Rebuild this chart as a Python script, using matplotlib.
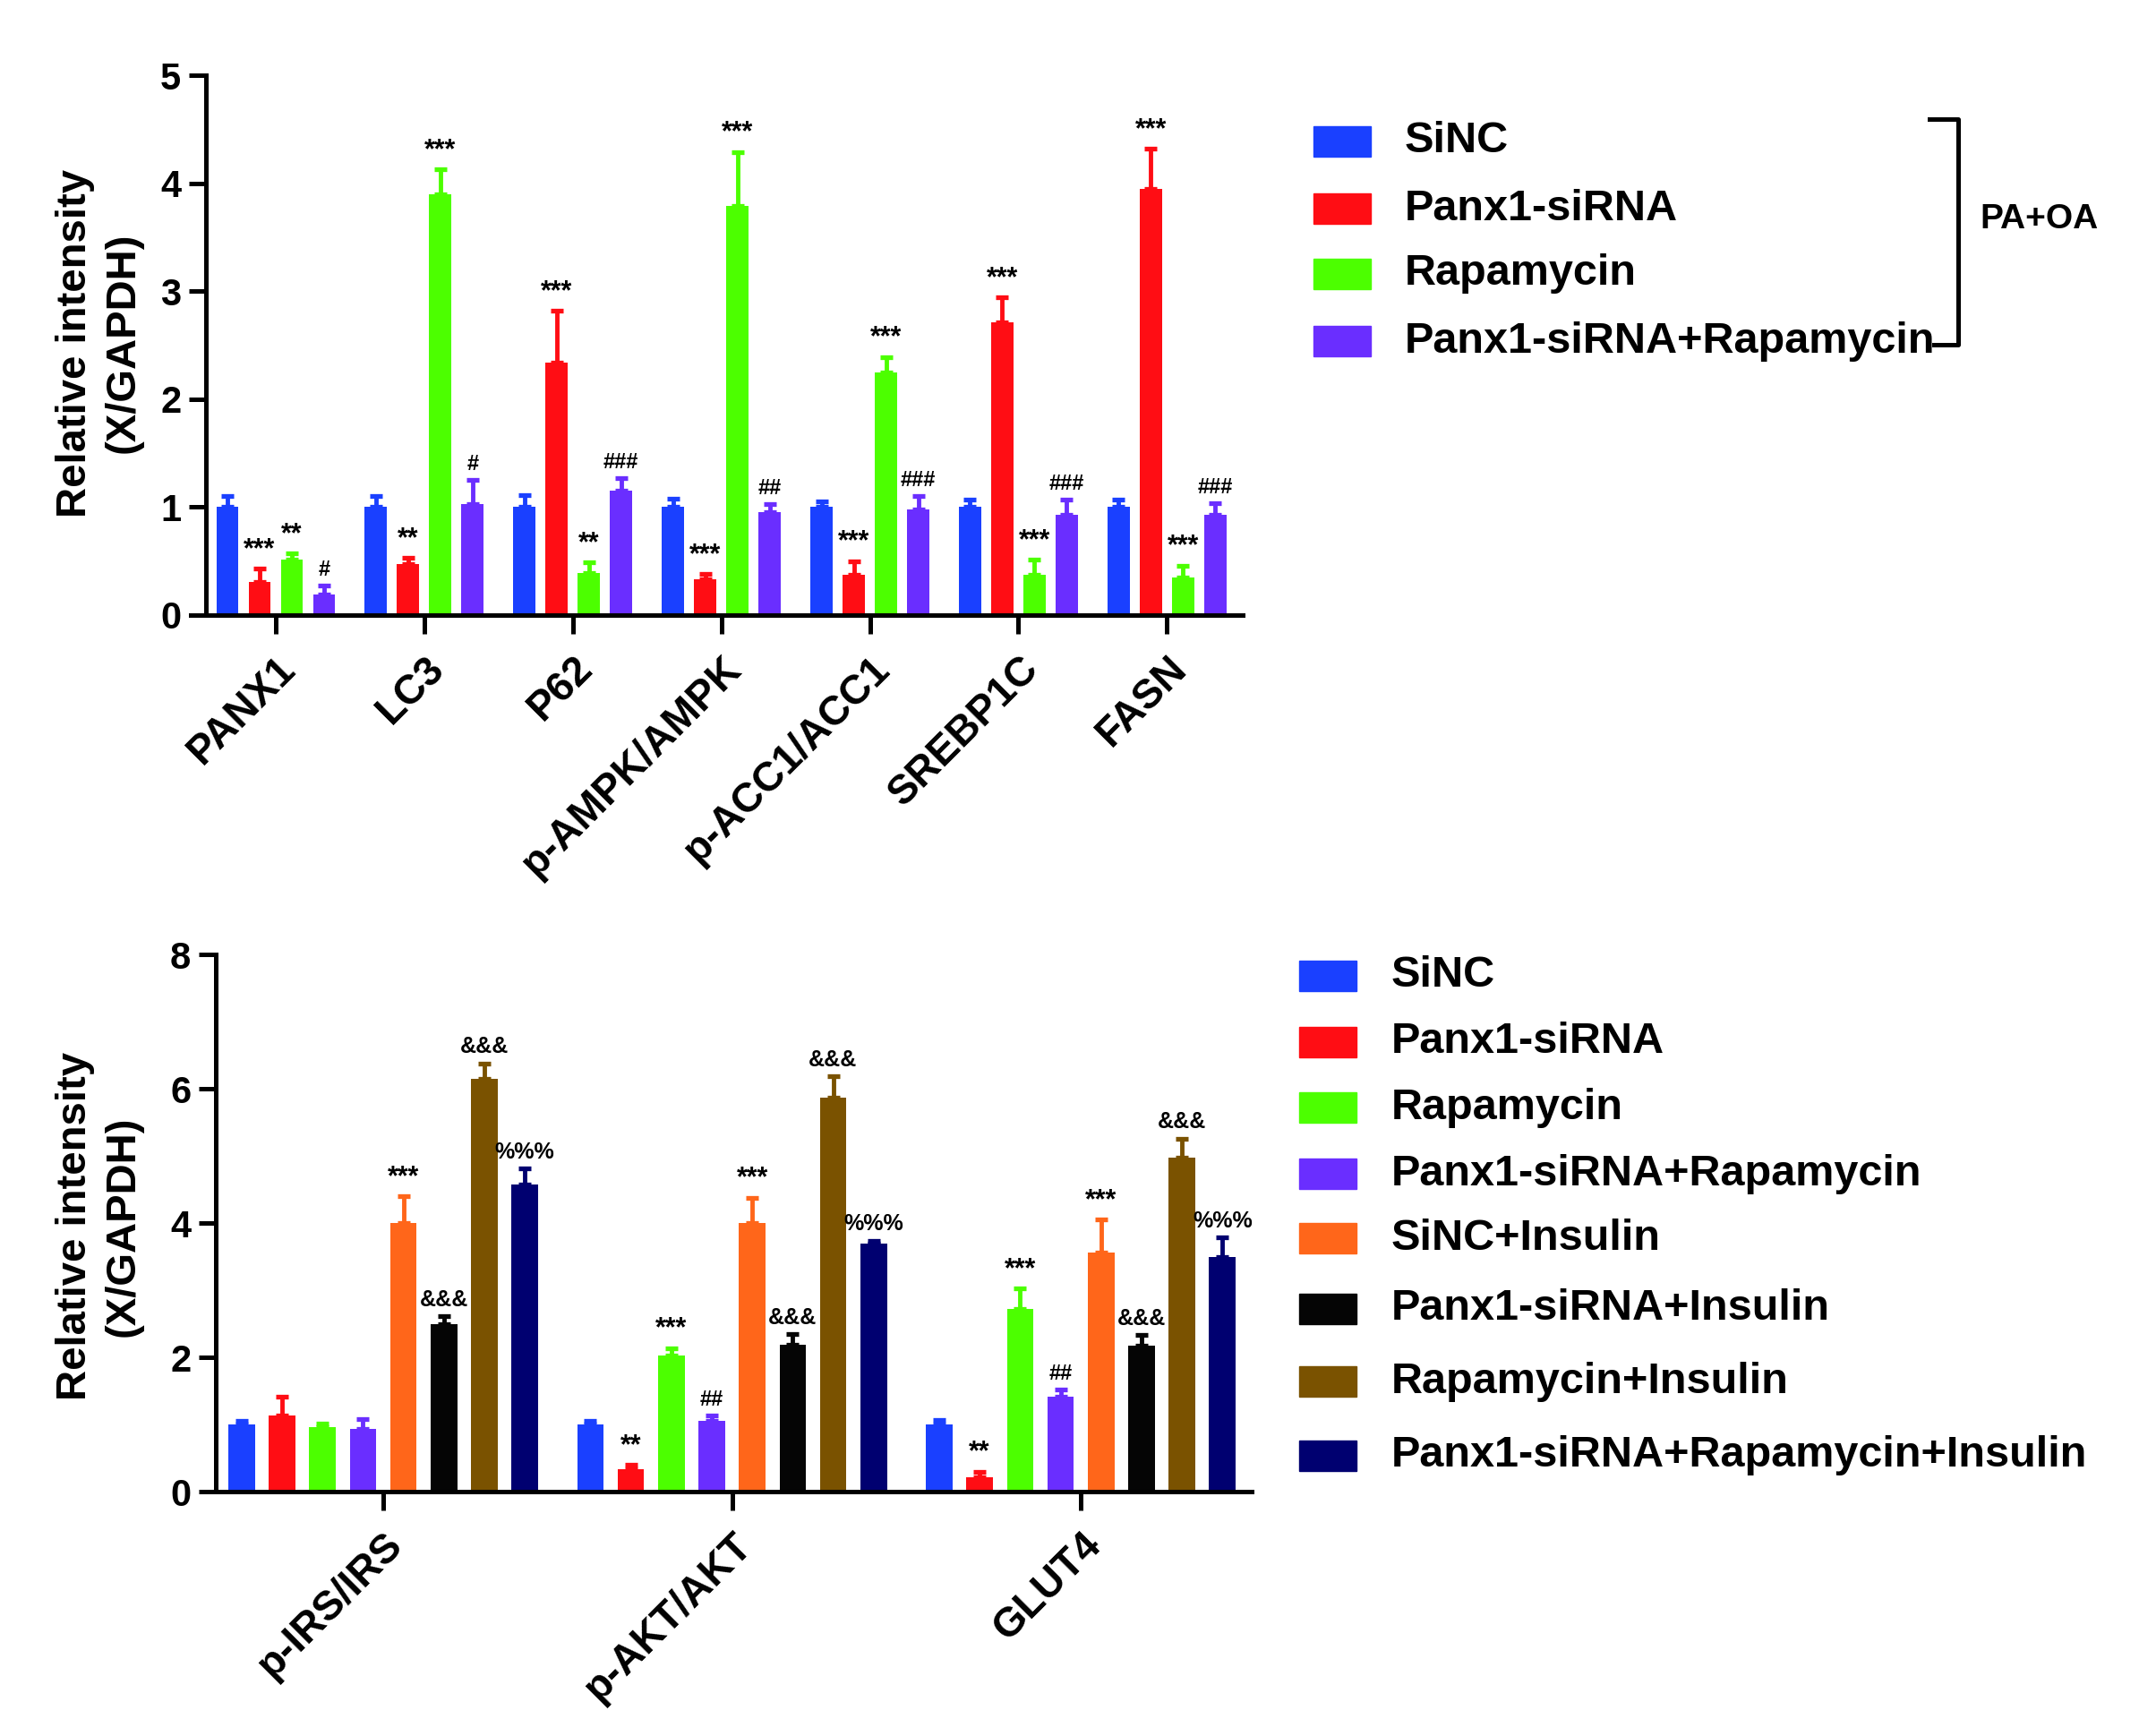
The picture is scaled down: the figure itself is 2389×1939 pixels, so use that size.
import matplotlib
matplotlib.use("Agg")
import matplotlib.pyplot as plt
from matplotlib.patches import Rectangle
from matplotlib.lines import Line2D
import numpy as np

plt.rcParams["font.family"] = ["Liberation Sans", "DejaVu Sans"]
plt.rcParams["font.weight"] = "bold"

# ---- top panel data (PA+OA) ----
top_categories = ["PANX1", "LC3", "P62", "p-AMPK/AMPK", "p-ACC1/ACC1", "SREBP1C", "FASN"]
top_groups = ["SiNC", "Panx1-siRNA", "Rapamycin", "Panx1-siRNA+Rapamycin"]

sinc_top = [1.0, 1.0, 1.0, 1.0, 1.0, 1.0, 1.0]
sinc_top_err = [0.10, 0.10, 0.11, 0.08, 0.05, 0.07, 0.07]
panx_top = [0.31, 0.47, 2.34, 0.33, 0.37, 2.71, 3.95]
panx_top_err = [0.12, 0.06, 0.48, 0.05, 0.13, 0.23, 0.37]
rapa_top = [0.51, 3.90, 0.39, 3.79, 2.25, 0.375, 0.35]
rapa_top_err = [0.06, 0.23, 0.10, 0.50, 0.14, 0.135, 0.11]
combo_top = [0.19, 1.03, 1.15, 0.95, 0.98, 0.93, 0.93]
combo_top_err = [0.08, 0.22, 0.12, 0.08, 0.12, 0.14, 0.11]

sinc_top_marks = ["", "", "", "", "", "", ""]
panx_top_marks = ["***", "**", "***", "***", "***", "***", "***"]
rapa_top_marks = ["**", "***", "**", "***", "***", "***", "***"]
combo_top_marks = ["#", "#", "###", "##", "###", "###", "###"]

# ---- bottom panel data (insulin) ----
bottom_categories = ["p-IRS/IRS", "p-AKT/AKT", "GLUT4"]
bottom_groups = ["SiNC", "Panx1-siRNA", "Rapamycin", "Panx1-siRNA+Rapamycin",
                 "SiNC+Insulin", "Panx1-siRNA+Insulin", "Rapamycin+Insulin",
                 "Panx1-siRNA+Rapamycin+Insulin"]

sinc_b = [1.0, 1.0, 1.0]
sinc_b_err = [0.05, 0.05, 0.07]
panx_b = [1.14, 0.33, 0.21]
panx_b_err = [0.28, 0.07, 0.09]
rapa_b = [0.96, 2.03, 2.72]
rapa_b_err = [0.05, 0.11, 0.31]
combo_b = [0.94, 1.06, 1.42]
combo_b_err = [0.14, 0.08, 0.10]
sinc_ins = [4.0, 4.0, 3.56]
sinc_ins_err = [0.40, 0.38, 0.49]
panx_ins = [2.50, 2.19, 2.18]
panx_ins_err = [0.11, 0.16, 0.16]
rapa_ins = [6.15, 5.87, 4.98]
rapa_ins_err = [0.23, 0.32, 0.28]
combo_ins = [4.58, 3.69, 3.50]
combo_ins_err = [0.23, 0.05, 0.29]

sinc_b_marks = ["", "", ""]
panx_b_marks = ["", "**", "**"]
rapa_b_marks = ["", "***", "***"]
combo_b_marks = ["", "##", "##"]
sinc_ins_marks = ["***", "***", "***"]
panx_ins_marks = ["&&&", "&&&", "&&&"]
rapa_ins_marks = ["&&&", "&&&", "&&&"]
combo_ins_marks = ["%%%", "%%%", "%%%"]

colors = ["#1a40ff", "#ff0d14", "#4cff00", "#6a2eff",
          "#ff661a", "#050505", "#7a5200", "#000070"]

W, H = 2389, 1939
fig = plt.figure(figsize=(W / 100, H / 100), dpi=100)


def fx(px):
    return px / W


def fy(py):
    return 1 - py / H


def mark_size(s):
    if "*" in s:
        return 22
    if "#" in s:
        return 17
    return 18


def draw_panel(ax, cats, series, errs, marks, pitch, width, ymax, ystep, pad, xlim, ext):
    x = np.arange(len(cats))
    n = len(series)
    for k in range(n):
        xs = x + (k - (n - 1) / 2) * pitch
        vals = np.array(series[k])
        e = np.array(errs[k])
        ax.bar(xs, vals, width=width, color=colors[k], edgecolor="none", zorder=2)
        ax.errorbar(xs, vals, yerr=[np.zeros_like(e), e], fmt="none",
                    ecolor=colors[k], elinewidth=3.5, capsize=5, capthick=3.8, zorder=2)
        for xi, v, ei, m in zip(xs, vals, e, marks[k]):
            if m:
                ax.text(xi, v + ei + pad, m, ha="center", va="bottom",
                        fontsize=mark_size(m), fontweight="bold")
    ax.set_xlim(*xlim)
    ax.set_xticks(x)
    ax.set_xticklabels(cats, rotation=45, ha="right", rotation_mode="anchor",
                       fontsize=33, fontweight="bold")
    ax.set_ylim(0, ymax)
    ticks = np.arange(0, ymax + 0.01, ystep)
    ax.set_yticks(ticks)
    ax.set_yticklabels([str(int(t)) for t in ticks], fontsize=30, fontweight="bold")
    for s in ["top", "right"]:
        ax.spines[s].set_visible(False)
    for s in ["left", "bottom"]:
        ax.spines[s].set_linewidth(3.6)
    ax.spines["bottom"].set_bounds(xlim[0] - ext, xlim[1])
    ax.tick_params(axis="x", length=15, width=3.6, pad=12)
    ax.tick_params(axis="y", length=14, width=3.6, pad=6)


# top panel
ax1 = fig.add_axes([fx(230), fy(687), fx(1388 - 230), (687 - 84) / H])
draw_panel(ax1, top_categories,
           [sinc_top, panx_top, rapa_top, combo_top],
           [sinc_top_err, panx_top_err, rapa_top_err, combo_top_err],
           [sinc_top_marks, panx_top_marks, rapa_top_marks, combo_top_marks],
           pitch=0.217, width=0.15, ymax=5, ystep=1, pad=0.05,
           xlim=(-0.47, 6.51), ext=0.1)

# bottom panel
ax2 = fig.add_axes([fx(241), fy(1666), fx(1398 - 241), (1666 - 1066) / H])
draw_panel(ax2, bottom_categories,
           [sinc_b, panx_b, rapa_b, combo_b, sinc_ins, panx_ins, rapa_ins, combo_ins],
           [sinc_b_err, panx_b_err, rapa_b_err, combo_b_err,
            sinc_ins_err, panx_ins_err, rapa_ins_err, combo_ins_err],
           [sinc_b_marks, panx_b_marks, rapa_b_marks, combo_b_marks,
            sinc_ins_marks, panx_ins_marks, rapa_ins_marks, combo_ins_marks],
           pitch=0.116, width=0.076, ymax=8, ystep=2, pad=0.08,
           xlim=(-0.48, 2.49), ext=0.02)

# y labels
for yc in [383, 1370]:
    fig.text(fx(111), fy(yc), "Relative intensity\n(X/GAPDH)", rotation=90,
             ha="center", va="center", multialignment="center",
             fontsize=34, fontweight="bold", linespacing=1.3)

# legends drawn by hand to keep GraphPad spacing
top_rows = [158, 233, 306, 381]
for k, (lab, yr) in enumerate(zip(top_groups, top_rows)):
    fig.patches.append(Rectangle((fx(1467), fy(yr + 17)), fx(64), 34 / H,
                                 transform=fig.transFigure, color=colors[k]))
    fig.text(fx(1569), fy(yr), lab, ha="left", va="center", fontsize=35,
             fontweight="bold")

bottom_rows = [1090, 1164, 1237, 1311, 1383, 1462, 1543, 1626]
for k, (lab, yr) in enumerate(zip(bottom_groups, bottom_rows)):
    fig.patches.append(Rectangle((fx(1451), fy(yr + 17)), fx(64), 34 / H,
                                 transform=fig.transFigure, color=colors[k]))
    fig.text(fx(1554), fy(yr), lab, ha="left", va="center", fontsize=35,
             fontweight="bold")

# PA+OA bracket
fig.add_artist(Line2D([fx(2155), fx(2187), fx(2187), fx(2160)],
                      [fy(133), fy(133), fy(385), fy(385)],
                      transform=fig.transFigure, color="black", linewidth=3.6))
fig.text(fx(2278), fy(245), "PA+OA", ha="center", va="center", fontsize=28,
         fontweight="bold")

fig.savefig("out.png", dpi=100)
